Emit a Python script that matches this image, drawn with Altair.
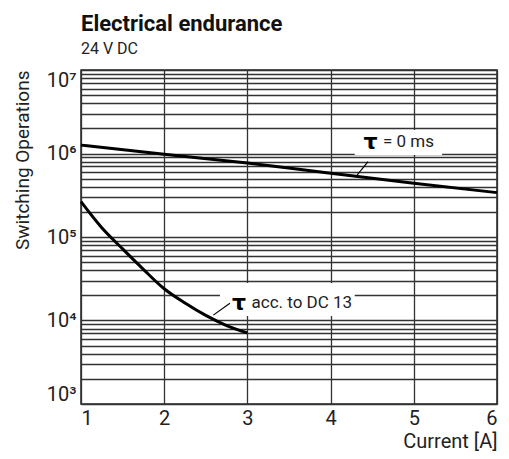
import altair as alt
import pandas as pd

FONT = "Roboto, Liberation Sans, sans-serif"

# axis values
x_ticks = [1, 2, 3, 4, 5, 6]
y_grid = [m * 10**k for k in range(3, 7) for m in range(1, 10)] + [10**7]
y_major = [10**3, 10**4, 10**5, 10**6, 10**7]
y_major_labels = ["10³", "10⁴", "10⁵", "10⁶", "10⁷"]

# series
current_0ms = [1, 2, 3, 4, 5, 6]
ops_0ms = [1.26e6, 9.8e5, 7.7e5, 5.8e5, 4.4e5, 3.4e5]
current_dc13 = [1, 1.25, 1.5, 1.75, 2, 2.25, 2.5, 2.75, 3]
ops_dc13 = [2.65e5, 1.29e5, 7.2e4, 4.1e4, 2.4e4, 1.62e4, 1.15e4, 8.7e3, 7.1e3]

# annotations (data units)
box_x = [4.29, 2.67]
box_x2 = [5.34, 4.29]
box_y = [9.6e5, 1.13e4]
box_y2 = [1.91e6, 2.81e4]
tau_x = [4.48, 2.90]
tau_y = [1.38e6, 1.6e4]
label_text = ["= 0 ms", "acc. to DC 13"]
label_x = [4.63, 3.05]
label_y = [1.38e6, 1.6e4]
leader_x = [4.45, 2.79]
leader_x2 = [4.32, 2.59]
leader_y = [7.98e5, 1.61e4]
leader_y2 = [5.53e5, 1.16e4]

lines_df = pd.DataFrame({
    "current": current_0ms + current_dc13,
    "ops": ops_0ms + ops_dc13,
    "series": ["0ms"] * len(current_0ms) + ["dc13"] * len(current_dc13),
})
box_df = pd.DataFrame({"x": box_x, "x2": box_x2, "y": box_y, "y2": box_y2})
tau_df = pd.DataFrame({"x": tau_x, "y": tau_y, "t": ["τ", "τ"]})
lab_df = pd.DataFrame({"x": label_x, "y": label_y, "t": label_text})
lead_df = pd.DataFrame({"x": leader_x, "x2": leader_x2, "y": leader_y, "y2": leader_y2})

label_expr = " : ".join(
    f"datum.value == {v} ? '{t}'" for v, t in zip(y_major, y_major_labels)
) + " : ''"

xs = alt.Scale(domain=[1, 6], nice=False, zero=False)
ys = alt.Scale(type="log", domain=[1e3, 1e7], nice=False)

xa = alt.Axis(values=x_ticks, grid=True, gridColor="#333", gridWidth=1.3,
              ticks=False, domain=False, labelFlush=True, labelFontSize=20,
              labelFont=FONT, labelColor="#222", labelPadding=4, format="d",
              title="Current [A]", titleFont=FONT, titleFontSize=20,
              titleFontWeight="normal", titleAnchor="end", titleColor="#222",
              titlePadding=3)
ya = alt.Axis(values=y_grid, grid=True, gridColor="#333", gridWidth=1.3,
              ticks=False, domain=False, labelFlush=True, labelFontSize=20,
              labelFont=FONT, labelColor="#222", labelPadding=5,
              labelExpr=label_expr, labelOverlap=False,
              title="Switching Operations", titleFont=FONT, titleFontSize=19,
              titleFontWeight="normal", titleAnchor="end", titleColor="#222",
              titlePadding=14)


def X(f):
    return alt.X(f, type="quantitative", scale=xs, axis=xa)


def Y(f):
    return alt.Y(f, type="quantitative", scale=ys, axis=ya)


boxes = alt.Chart(box_df).mark_rect(fill="white", stroke=None).encode(
    x=X("x"), x2="x2", y=Y("y"), y2="y2")

curves = alt.Chart(lines_df).mark_line(
    color="black", strokeWidth=3, interpolate="monotone").encode(
    x=X("current"), y=Y("ops"), detail="series")

leaders = alt.Chart(lead_df).mark_rule(color="black", strokeWidth=1.2).encode(
    x=X("x"), x2="x2", y=Y("y"), y2="y2")

taus = alt.Chart(tau_df).mark_text(
    font="DejaVu Sans", fontWeight="bold", fontSize=22, color="black",
    align="center", baseline="middle").encode(x=X("x"), y=Y("y"), text="t")

labels = alt.Chart(lab_df).mark_text(
    font=FONT, fontSize=17, color="#222", align="left",
    baseline="middle").encode(x=X("x"), y=Y("y"), text="t")

chart = alt.layer(boxes, curves, leaders, taus, labels).properties(
    width=416, height=334,
    autosize=alt.AutoSizeParams(type="none"),
    padding={"left": 73, "top": 62, "right": 4, "bottom": 50},
    title=alt.Title("Electrical endurance", subtitle="24 V DC",
                    anchor="start", frame="group", font=FONT, fontSize=22,
                    fontWeight="bold", color="#111", subtitleFont=FONT,
                    subtitleFontSize=16, subtitleColor="#222",
                    subtitlePadding=5, offset=6),
).configure_view(stroke="#222", strokeWidth=1.5)

chart.save("out.html", embed_options={"renderer": "svg", "actions": False})
